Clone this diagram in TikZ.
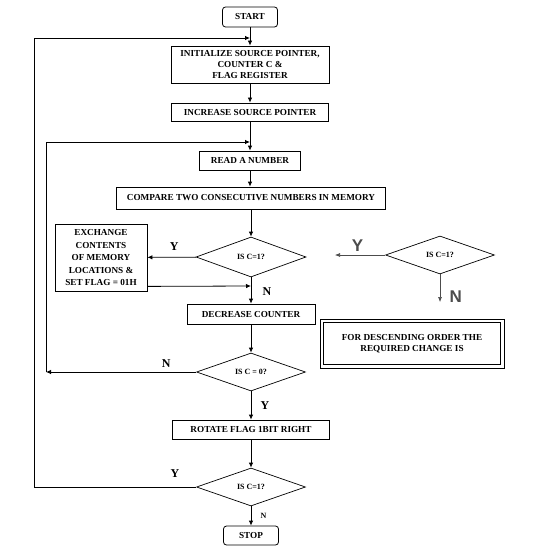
\documentclass[tikz,border=0pt]{standalone}
\usepackage{fontspec}
\setmainfont{Liberation Serif}
\newfontfamily\labelsans{Liberation Sans}
\usetikzlibrary{arrows.meta,positioning,shapes.geometric}

\begin{document}
\begin{tikzpicture}[
  x=1pt, y=-1pt,
  font=\bfseries\fontsize{9.2}{11}\selectfont,
  box/.style={rectangle, draw, line width=0.8pt, inner sep=1pt, align=center},
  term/.style={rectangle, rounded corners=3pt, draw, line width=0.8pt, inner sep=1pt, align=center},
  decision/.style={diamond, draw, line width=0.7pt, inner sep=0pt, aspect=2.8, font=\bfseries\fontsize{8}{9}\selectfont},
  note/.style={rectangle, draw, line width=0.7pt, align=center},
  arrow/.style={-{Latex[length=5pt,width=4.5pt]}, line width=0.8pt},
  grayarrow/.style={-{Latex[length=5pt,width=4pt]}, line width=0.6pt, black!70},
  yn/.style={font=\bfseries\fontsize{12}{12}\selectfont},
  bigyn/.style={font=\labelsans\bfseries\fontsize{17}{17}\selectfont}
]
\useasboundingbox (0,0) rectangle (548,559);

% main column
\node[term, minimum width=55pt, minimum height=20pt] (start) at (250,17) {START};
\node[box, minimum width=158pt, minimum height=37pt] (init) at (250,64.5)
  {INITIALIZE SOURCE POINTER,\\COUNTER C \&\\FLAG REGISTER};
\node[box, minimum width=157pt, minimum height=18pt] (incr) at (250,112) {INCREASE SOURCE POINTER};
\node[box, minimum width=101pt, minimum height=19pt] (read) at (250,160.5) {READ A NUMBER};
\node[box, minimum width=269pt, minimum height=22pt] (comp) at (251,198) {COMPARE TWO CONSECUTIVE NUMBERS IN MEMORY};
\node[decision, minimum width=110pt, minimum height=40pt] (isone) at (251,257) {IS C=1?};
\node[box, minimum width=92pt, minimum height=67pt, font=\bfseries\fontsize{9.2}{12.5}\selectfont] (exch) at (101,257.5)
  {EXCHANGE\\CONTENTS\\OF MEMORY\\LOCATIONS \&\\SET FLAG = 01H};
\node[box, minimum width=128pt, minimum height=20pt] (decr) at (251,314) {DECREASE COUNTER};
\node[decision, minimum width=109pt, minimum height=38pt] (iszero) at (251,372) {IS C = 0?};
\node[box, minimum width=157pt, minimum height=19pt] (rot) at (251,429.5) {ROTATE FLAG 1BIT RIGHT};
\node[decision, minimum width=109pt, minimum height=38pt] (isend) at (251,487) {IS C=1?};
\node[term, minimum width=55pt, minimum height=19pt] (stop) at (251,535.5) {STOP};

% side note
\node[decision, minimum width=109pt, minimum height=38pt] (desc) at (440,255) {IS C=1?};
\coordinate (descy) at (335,255);
\coordinate (descn) at (440,302);
\node[note, minimum width=184pt, minimum height=49pt] (change) at (412,343.5)
  {FOR DESCENDING ORDER THE\\REQUIRED CHANGE IS};
\draw[line width=0.7pt] ([shift={(4,4)}]change.north west) rectangle ([shift={(-4,-4)}]change.south east);

% junctions
\coordinate (j1) at (250,38);
\coordinate (j2) at (250,142);
\coordinate (j3) at (251,286);
\coordinate (c1) at (34,487);
\coordinate (c2) at (46,372);

\draw[arrow] (start) -- (init);
\draw[arrow] (init) -- (incr);
\draw[arrow] (incr) -- (read);
\draw[arrow] (read.south) -- (read.south |- comp.north);
\draw[arrow] (comp) -- (isone);
\draw[arrow] (isone) -- node[yn, above=3pt, pos=0.45] {Y} (exch);
\draw[arrow] ([yshift=5pt]exch.south east) -- (j3);
\draw[arrow] (isone) -- node[yn, right=8pt, pos=0.55] {N} (decr);
\draw[arrow] (decr) -- (iszero);
\draw[arrow] (iszero) -- node[yn, right=6pt] {Y} (rot);
\draw[arrow] (iszero.west) -- node[yn, above=1pt, pos=0.2] {N} (c2);
\draw[arrow] (c2) |- (j2);
\draw[arrow] (rot) -- (isend);
\draw[arrow] (isend) -- node[right=6pt, font=\bfseries\fontsize{8}{8}\selectfont] {N} (stop);
\draw[arrow] (isend.west) -- node[yn, above=6pt, pos=0.13] {Y} (c1) |- (j1);

\draw[grayarrow] (desc.west) -- node[bigyn, above=0pt, pos=0.55] {Y} (descy);
\draw[grayarrow] (desc.south) -- node[bigyn, right=6pt, pos=0.8] {N} (descn);
\end{tikzpicture}
\end{document}
